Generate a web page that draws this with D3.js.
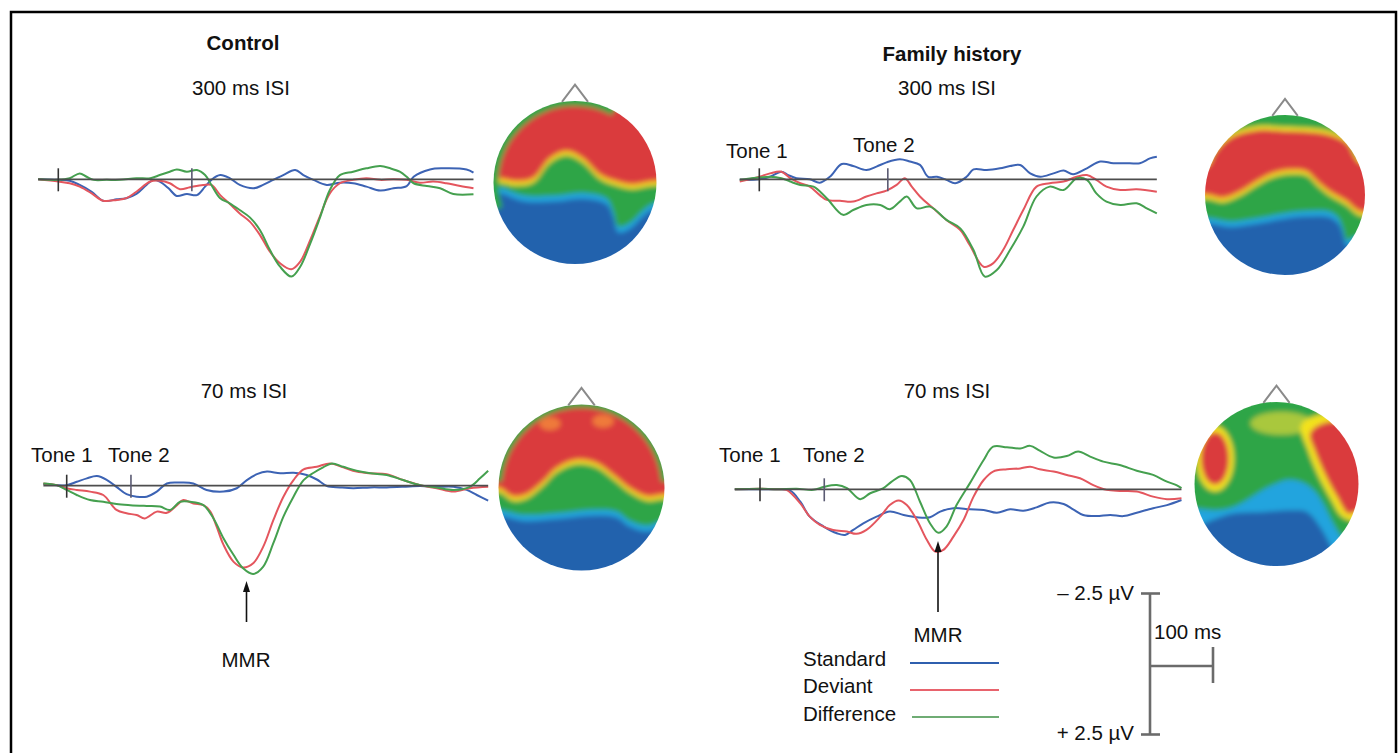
<!DOCTYPE html>
<html>
<head>
<meta charset="utf-8">
<script src="https://cdn.jsdelivr.net/npm/d3@7"></script>
<style>
body { margin: 0; background: #fff; }
svg text { font-family: "Liberation Sans", Arial, sans-serif; font-size: 20.5px; fill: #111; }
</style>
</head>
<body>
<div id="chart"></div>
<script>
// ERP traces, [time from tone 1 (ms), amplitude (µV, positive plotted down)]
const ctrl300Standard = [[-32,0],[0,0.02],[18,0.05],[34,0.2],[53,0.44],[71,0.76],[93,0.71],[108,0.67],[124,0.52],[140,0.2],[151,0.02],[161,0.08],[175,0.32],[188,0.59],[204,0.52],[220,0.56],[233,0.26],[243,0.02],[257,-0.15],[272,-0.04],[288,0.2],[310,0.32],[325,0.2],[341,0.02],[357,-0.15],[376,-0.33],[389,-0.15],[405,0.02],[426,0.2],[447,0.12],[468,0.14],[489,0.26],[511,0.4],[532,0.32],[553,0.24],[564,-0.09],[590,-0.35],[611,-0.39],[648,-0.35],[659,-0.24]];
const ctrl300Deviant = [[-32,0],[0,0.08],[18,0.14],[34,0.26],[53,0.5],[71,0.76],[93,0.73],[108,0.67],[124,0.44],[146,0.08],[161,0.05],[177,0.14],[193,0.35],[209,0.28],[230,0.2],[243,0.2],[257,0.56],[272,0.87],[288,1.21],[304,1.5],[320,1.97],[336,2.57],[352,2.98],[370,3.19],[384,2.92],[400,2.15],[415,1.32],[431,0.5],[447,0.14],[468,0.02],[489,-0.04],[511,0.02],[532,0],[553,0.02],[574,0.12],[595,0.08],[616,0.14],[638,0.24],[659,0.32]];
const ctrl300Difference = [[-32,0],[0,0.02],[18,-0.04],[34,-0.21],[45,-0.09],[56,0.02],[77,0.02],[98,0.02],[124,-0.04],[146,-0.04],[161,-0.15],[177,-0.27],[188,-0.35],[204,-0.27],[220,-0.33],[233,-0.15],[243,0.2],[257,0.67],[272,0.85],[288,1.09],[304,1.35],[320,1.8],[336,2.51],[352,3.1],[370,3.45],[384,3.1],[400,2.27],[415,1.38],[431,0.38],[447,-0.15],[468,-0.27],[489,-0.39],[511,-0.47],[527,-0.39],[542,-0.27],[553,-0.09],[564,0.14],[585,0.24],[606,0.32],[627,0.52],[659,0.53]];

const fam300Standard = [[-31,0.02],[0,0],[17,-0.09],[35,-0.27],[46,-0.15],[59,-0.04],[80,0],[96,0.12],[112,-0.09],[131,-0.54],[149,-0.47],[170,-0.33],[186,-0.45],[202,-0.6],[223,-0.71],[239,-0.63],[255,-0.51],[268,-0.09],[282,-0.09],[297,0.02],[311,0.14],[329,-0.09],[340,-0.35],[361,-0.33],[382,-0.39],[398,-0.47],[414,-0.51],[430,-0.21],[446,-0.09],[467,-0.21],[483,-0.31],[498,-0.18],[520,-0.39],[541,-0.63],[562,-0.57],[588,-0.57],[604,-0.57],[620,-0.74],[631,-0.8]];
const fam300Deviant = [[-31,0.08],[0,-0.09],[17,-0.21],[35,-0.27],[49,-0.04],[65,0.14],[80,0.26],[96,0.56],[107,0.73],[128,0.76],[149,0.79],[170,0.61],[186,0.5],[202,0.4],[218,0.2],[231,-0.04],[242,0.26],[255,0.61],[276,1.03],[297,1.44],[319,1.8],[334,2.33],[356,3.1],[371,2.98],[387,2.51],[403,1.8],[419,1.09],[440,0.26],[461,0.14],[483,0.08],[504,-0.09],[520,-0.15],[535,0.02],[551,0.26],[573,0.38],[599,0.35],[631,0.44]];
const fam300Difference = [[-31,0.02],[0,-0.06],[17,-0.09],[35,-0.04],[49,0.08],[65,0.2],[86,0.26],[107,0.67],[133,1.26],[149,1.09],[170,0.91],[192,0.91],[207,1.06],[223,0.79],[234,0.61],[250,1.03],[271,0.97],[297,1.44],[319,1.74],[340,2.51],[358,3.45],[377,3.22],[398,2.51],[419,1.68],[440,0.61],[461,0.26],[483,0.38],[504,-0.04],[520,0.02],[535,0.5],[551,0.79],[573,0.91],[599,0.85],[615,1.03],[631,1.21]];

const ctrl70Standard = [[-37,-0.06],[0,-0.02],[16,-0.14],[32,-0.26],[48,-0.34],[64,-0.2],[79,0.04],[95,0.3],[111,0.39],[127,0.39],[143,0.21],[159,-0.08],[180,-0.11],[201,-0.08],[222,0.15],[249,0.21],[270,0.09],[286,-0.2],[302,-0.41],[318,-0.5],[339,-0.44],[360,-0.46],[381,-0.38],[397,-0.22],[413,0.01],[434,0.06],[455,0.09],[482,0.06],[508,0.06],[534,0.04],[561,0.01],[587,0.04],[614,0.04],[635,0.15],[651,0.33],[669,0.53]];
const ctrl70Deviant = [[-37,-0.08],[-16,-0.02],[0,0.09],[16,0.15],[37,0.21],[58,0.33],[79,0.86],[95,0.98],[111,1.04],[124,1.16],[143,0.92],[159,0.96],[175,0.69],[185,0.51],[201,0.63],[217,0.69],[228,0.92],[238,1.45],[249,2.1],[265,2.7],[280,2.9],[296,2.75],[312,2.16],[328,1.22],[344,0.39],[360,-0.2],[376,-0.58],[397,-0.67],[418,-0.79],[439,-0.65],[460,-0.5],[482,-0.44],[508,-0.41],[534,-0.2],[561,-0.02],[587,0.09],[614,0.21],[640,0.09],[669,0.04]];
const ctrl70Difference = [[-37,-0.08],[-16,-0.02],[0,0.15],[16,0.33],[37,0.51],[58,0.57],[79,0.65],[101,0.69],[127,0.72],[148,0.74],[164,0.86],[180,0.57],[196,0.57],[217,0.69],[233,1.16],[249,1.87],[265,2.46],[280,2.93],[296,3.13],[312,2.87],[328,2.04],[344,1.1],[360,0.39],[376,-0.2],[392,-0.46],[407,-0.65],[421,-0.79],[439,-0.67],[460,-0.53],[482,-0.44],[508,-0.38],[534,-0.2],[561,-0.02],[587,0.06],[614,0.15],[640,0.04],[656,-0.26],[669,-0.53]];

const fam70Standard = [[-40,0],[0,0],[27,0],[48,0.05],[64,0.44],[79,0.97],[101,1.32],[122,1.56],[135,1.62],[148,1.44],[164,1.21],[185,0.97],[206,0.79],[228,0.91],[249,0.99],[270,0.99],[286,0.79],[307,0.67],[333,0.71],[355,0.73],[376,0.83],[397,0.71],[418,0.76],[439,0.64],[460,0.47],[482,0.52],[497,0.71],[513,0.91],[534,0.95],[556,0.91],[577,0.95],[598,0.83],[624,0.67],[646,0.56],[669,0.38]];
const fam70Deviant = [[-40,0],[0,-0.02],[27,0],[42,0.02],[64,0.5],[79,0.97],[95,1.26],[116,1.44],[138,1.5],[153,1.58],[169,1.44],[191,0.97],[206,0.56],[220,0.4],[233,0.56],[249,1.09],[265,1.8],[278,2.21],[291,2.15],[307,1.68],[323,1.09],[339,0.26],[355,-0.33],[370,-0.63],[392,-0.71],[413,-0.74],[429,-0.8],[444,-0.71],[466,-0.63],[487,-0.51],[508,-0.39],[529,-0.15],[550,0.02],[571,0.06],[598,0.08],[624,0.26],[646,0.35],[669,0.32]];
const fam70Difference = [[-40,0],[0,-0.02],[27,0],[58,-0.02],[85,0.02],[102,-0.09],[122,-0.15],[138,-0.04],[159,0.35],[175,0.14],[196,-0.04],[209,-0.27],[225,-0.47],[238,-0.33],[254,0.44],[270,1.21],[283,1.54],[296,1.32],[312,0.56],[333,-0.21],[355,-1.04],[370,-1.51],[392,-1.49],[413,-1.45],[429,-1.54],[444,-1.37],[466,-1.13],[487,-1.18],[505,-1.34],[524,-1.16],[545,-0.98],[571,-0.86],[598,-0.66],[624,-0.51],[646,-0.27],[661,-0.15],[669,-0.04]];

const tone2Times = [212, 204, 102, 102];
const conditions = ['Standard', 'Deviant', 'Difference'];
const isiLabels = ['300 ms ISI', '300 ms ISI', '70 ms ISI', '70 ms ISI'];
const groupLabels = ['Control', 'Family history'];
const scaleBarUv = [-2.5, 2.5];
const scaleBarMs = 100;

// scalp map contours, unit-circle coords (x right, y down)
const ctrl300RedEdge = [[-0.96,-0.07],[-0.71,-0.03],[-0.51,-0.07],[-0.31,-0.31],[-0.1,-0.4],[0.1,-0.31],[0.31,-0.11],[0.51,-0.03],[0.71,0.01],[0.96,-0.03]];
const ctrl300GreenEdge = [[-0.96,0.05],[-0.63,0.16],[-0.22,0.16],[0.1,0.13],[0.39,0.2],[0.47,0.36],[0.53,0.54],[0.67,0.5],[0.84,0.34],[0.96,0.26]];
const fam300RedEdge = [[-0.98,-0.02],[-0.77,0.02],[-0.56,-0.06],[-0.35,-0.19],[-0.15,-0.29],[0.06,-0.33],[0.27,-0.31],[0.4,-0.19],[0.56,-0.06],[0.77,0.06],[0.94,0.19]];
const fam300TopEdge = [[-0.98,-0.35],[-0.85,-0.56],[-0.65,-0.73],[-0.35,-0.81],[-0.02,-0.8],[0.27,-0.79],[0.56,-0.75],[0.77,-0.65],[0.94,-0.4]];
const fam300GreenEdge = [[-0.94,0.29],[-0.69,0.33],[-0.35,0.29],[-0.02,0.23],[0.27,0.2],[0.56,0.21],[0.67,0.29],[0.73,0.44],[0.77,0.56],[0.9,0.52]];
const ctrl70RedEdge = [[-0.99,-0.01],[-0.83,0.09],[-0.67,0.07],[-0.46,-0.09],[-0.3,-0.25],[-0.06,-0.35],[0.18,-0.31],[0.38,-0.17],[0.58,-0.01],[0.79,0.09],[0.99,0.07]];
const ctrl70GreenEdge = [[-0.99,0.27],[-0.71,0.33],[-0.3,0.31],[0.1,0.27],[0.42,0.29],[0.58,0.4],[0.79,0.46],[0.99,0.4]];
const fam70GreenEdge = [[-0.98,0.3],[-0.73,0.32],[-0.53,0.28],[-0.37,0.2],[-0.2,0.09],[-0.04,0.01],[0.12,-0.05],[0.29,-0.03],[0.45,0.07],[0.57,0.24],[0.69,0.48],[0.82,0.69],[0.9,0.77]];
const fam70DeepEdge = [[-0.98,0.52],[-0.78,0.44],[-0.53,0.36],[-0.16,0.34],[0.16,0.32],[0.37,0.34],[0.53,0.52],[0.69,0.81],[0.8,1.0]];
const fam70RightHalo = [[0.3,-0.72],[0.55,-0.85],[0.9,-0.82],[1.2,-0.5],[1.2,0.4],[0.95,0.45],[0.8,0.4],[0.66,0.18],[0.51,-0.1],[0.38,-0.42]];
const fam70RightBlob = [[0.41,-0.62],[0.6,-0.75],[0.88,-0.72],[1.15,-0.4],[1.15,0.2],[0.96,0.34],[0.87,0.36],[0.74,0.16],[0.59,-0.12],[0.47,-0.4]];

const colors = { Standard: '#3c63b4', Deviant: '#e4565e', Difference: '#45a04f' };
const legendColors = { Standard: '#2f5fae', Deviant: '#e8636d', Difference: '#6fac74' };
const map = { deep: '#2262ad', cyan: '#22a4de', green: '#2fa546', yellow: '#f3e21e', orange: '#f0922c', red: '#da3a3d', olive: '#a9c83c' };

const W = 1398, H = 753;
const pxPerMs = 0.63, pxPerUv = 28.2;

const svg = d3.select('#chart').append('svg')
	.attr('width', W)
	.attr('height', H);
const defs = svg.append('defs');
defs.append('filter').attr('id', 'soft')
	.attr('x', '-10%').attr('y', '-10%').attr('width', '120%').attr('height', '120%')
	.append('feGaussianBlur').attr('stdDeviation', 2.6);

// frame
svg.append('rect')
	.attr('x', 11).attr('y', 12).attr('width', 1385).attr('height', 760)
	.attr('fill', 'none').attr('stroke', '#000').attr('stroke-width', 2.5);

let panels = [
	{ ox: 58.3, oy: 179.3, series: [ctrl300Standard, ctrl300Deviant, ctrl300Difference], tones: null },
	{ ox: 759.3, oy: 179.3, series: [fam300Standard, fam300Deviant, fam300Difference], tones: [[726, 158], [853, 152]] },
	{ ox: 66.7, oy: 485.7, series: [ctrl70Standard, ctrl70Deviant, ctrl70Difference], tones: [[31, 462], [108, 462]] },
	{ ox: 760, oy: 489.3, series: [fam70Standard, fam70Deviant, fam70Difference], tones: [[719, 462], [803, 462]] }
];

panels.forEach((p, i) => {
	let x = d3.scaleLinear().domain([0, 100]).range([p.ox, p.ox + 100 * pxPerMs]);
	let y = d3.scaleLinear().domain([0, 2.5]).range([p.oy, p.oy + 2.5 * pxPerUv]);
	let g = svg.append('g');
	let line = d3.line().x(d => x(d[0])).y(d => y(d[1])).curve(d3.curveCatmullRom);

	p.series.forEach((s, k) => {
		g.append('path')
			.attr('d', line(s))
			.attr('fill', 'none')
			.attr('stroke', colors[conditions[k]])
			.attr('stroke-width', 2)
			.attr('stroke-linejoin', 'round');
	});

	let t0 = d3.min(p.series, s => s[0][0]), t1 = d3.max(p.series, s => s[s.length - 1][0]);
	g.append('line')
		.attr('x1', x(t0)).attr('x2', x(t1))
		.attr('y1', y(0)).attr('y2', y(0))
		.attr('stroke', '#4d4d4d').attr('stroke-width', 1.8);

	[0, tone2Times[i]].forEach((t, k) => {
		g.append('line')
			.attr('x1', x(t)).attr('x2', x(t))
			.attr('y1', y(0) - 11).attr('y2', y(0) + 12)
			.attr('stroke', k ? '#5a5a72' : '#333').attr('stroke-width', 1.6);
	});

	if (p.tones) {
		p.tones.forEach((pos, k) => {
			g.append('text').attr('x', pos[0]).attr('y', pos[1]).text('Tone ' + (k + 1));
		});
	}
});

// titles
svg.append('text').attr('x', 243).attr('y', 50).attr('text-anchor', 'middle')
	.style('font-weight', 'bold').text(groupLabels[0]);
svg.append('text').attr('x', 952).attr('y', 61).attr('text-anchor', 'middle')
	.style('font-weight', 'bold').text(groupLabels[1]);
[[241, 95], [947, 95], [244, 398], [947, 398]].forEach((pos, i) => {
	svg.append('text').attr('x', pos[0]).attr('y', pos[1]).attr('text-anchor', 'middle').text(isiLabels[i]);
});

// MMR arrows
function arrow(xp, y1, y2) {
	svg.append('line').attr('x1', xp).attr('x2', xp).attr('y1', y1).attr('y2', y2 + 8)
		.attr('stroke', '#111').attr('stroke-width', 1.6);
	svg.append('path')
		.attr('d', `M${xp},${y2}L${xp - 3.5},${y2 + 11}L${xp + 3.5},${y2 + 11}Z`)
		.attr('fill', '#111');
}
arrow(246.5, 622, 581);
svg.append('text').attr('x', 246).attr('y', 667).attr('text-anchor', 'middle').text('MMR');
arrow(938, 612, 541);
svg.append('text').attr('x', 938).attr('y', 642).attr('text-anchor', 'middle').text('MMR');

// legend
conditions.forEach((c, k) => {
	let yy = 663 + k * 27;
	svg.append('text').attr('x', 803).attr('y', yy + 2.5 + k * 0.5).text(c);
	svg.append('line')
		.attr('x1', 910 + (k === 2 ? 2 : 0)).attr('x2', 999)
		.attr('y1', yy).attr('y2', yy)
		.attr('stroke', legendColors[c]).attr('stroke-width', 2);
});

// scale bar
{
	let bx = d3.scaleLinear().domain([0, scaleBarMs]).range([1150, 1150 + scaleBarMs * pxPerMs]);
	let by = d3.scaleLinear().domain([0, 2.5]).range([664, 664 + 2.5 * pxPerUv]);
	let sb = svg.append('g').attr('stroke', '#6b6b6b').attr('stroke-width', 2.6);
	sb.append('line').attr('x1', bx(0)).attr('x2', bx(0)).attr('y1', by(scaleBarUv[0])).attr('y2', by(scaleBarUv[1]));
	scaleBarUv.forEach(v => {
		sb.append('line').attr('x1', bx(0) - 9).attr('x2', bx(0) + 10).attr('y1', by(v)).attr('y2', by(v));
	});
	sb.append('line').attr('x1', bx(0)).attr('x2', bx(scaleBarMs)).attr('y1', by(0) + 2).attr('y2', by(0) + 2);
	sb.append('line').attr('x1', bx(scaleBarMs)).attr('x2', bx(scaleBarMs)).attr('y1', by(0) - 17).attr('y2', by(0) + 19);
	svg.append('text').attr('x', 1134).attr('y', by(scaleBarUv[0]) + 6).attr('text-anchor', 'end').text('\u2013 2.5 \u00b5V');
	svg.append('text').attr('x', 1134).attr('y', by(scaleBarUv[1]) + 5).attr('text-anchor', 'end').text('+ 2.5 \u00b5V');
	svg.append('text').attr('x', 1154).attr('y', 639).text(scaleBarMs + ' ms');
}

// scalp maps
let heads = [
	{ cx: 575, cy: 182.5, r: 81.5, layers: [
		['above', ctrl300GreenEdge, 0.07, map.cyan],
		['above', ctrl300GreenEdge, 0, map.green],
		['above', ctrl300RedEdge, 0.07, map.yellow],
		['above', ctrl300RedEdge, 0.03, map.orange],
		['above', ctrl300RedEdge, 0, map.red],
		['rim', -1.9, 0.5, 0.06, map.green]
	] },
	{ cx: 1285, cy: 195, r: 80, layers: [
		['above', fam300GreenEdge, 0.07, map.cyan],
		['above', fam300GreenEdge, 0, map.green],
		['above', fam300RedEdge, 0.07, map.yellow],
		['above', fam300RedEdge, 0.03, map.orange],
		['above', fam300RedEdge, 0, map.red],
		['above', fam300TopEdge, 0, map.yellow],
		['above', fam300TopEdge, -0.05, map.green]
	] },
	{ cx: 581.5, cy: 487.5, r: 83, layers: [
		['above', ctrl70GreenEdge, 0.07, map.cyan],
		['above', ctrl70GreenEdge, 0, map.green],
		['above', ctrl70RedEdge, 0.07, map.yellow],
		['above', ctrl70RedEdge, 0.03, map.orange],
		['above', ctrl70RedEdge, 0, map.red],
		['ellipse', [-0.38, -0.77], [0.13, 0.08], '#ef7a3a'],
		['ellipse', [0.26, -0.8], [0.13, 0.08], '#ef7a3a'],
		['rim', -1.5, 1.5, 0.04, map.green]
	] },
	{ cx: 1276.5, cy: 484, r: 82, layers: [
		['above', fam70DeepEdge, 0, map.cyan],
		['above', fam70GreenEdge, 0, map.green],
		['ellipse', [0.06, -0.74], [0.38, 0.14], map.olive],
		['poly', fam70RightHalo, 0, map.yellow],
		['poly', fam70RightBlob, 0, map.red],
		['ellipse', [-0.75, -0.31], [0.23, 0.4], map.yellow],
		['ellipse', [-0.75, -0.31], [0.17, 0.32], map.red]
	] }
];

heads.forEach((h, i) => {
	let sx = d3.scaleLinear().domain([-1, 1]).range([h.cx - h.r, h.cx + h.r]);
	let sy = d3.scaleLinear().domain([-1, 1]).range([h.cy - h.r, h.cy + h.r]);
	let edgeLine = d3.line().x(d => sx(d[0])).y(d => sy(d[1])).curve(d3.curveCatmullRom);
	let closedLine = d3.line().x(d => sx(d[0])).y(d => sy(d[1])).curve(d3.curveCatmullRomClosed);
	let above = (edge, dv) => {
		let pts = edge.map(d => [d[0], d[1] + dv]);
		pts.unshift([-1.4, pts[0][1]]);
		pts.push([1.4, pts[pts.length - 1][1]]);
		return edgeLine(pts) + `L${sx(1.4)},${sy(-1.4)}L${sx(-1.4)},${sy(-1.4)}Z`;
	};

	defs.append('clipPath').attr('id', 'head' + i)
		.append('circle').attr('cx', h.cx).attr('cy', h.cy).attr('r', h.r);
	let outer = svg.append('g').attr('clip-path', `url(#head${i})`);
	let g = outer.append('g').attr('filter', 'url(#soft)');
	g.append('rect')
		.attr('x', h.cx - h.r - 10).attr('y', h.cy - h.r - 10)
		.attr('width', 2 * h.r + 20).attr('height', 2 * h.r + 20)
		.attr('fill', map.deep);

	h.layers.forEach(l => {
		if (l[0] === 'above') {
			g.append('path').attr('d', above(l[1], l[2])).attr('fill', l[3]);
		} else if (l[0] === 'poly') {
			g.append('path').attr('d', closedLine(l[1])).attr('fill', l[3]);
		} else if (l[0] === 'rim') {
			g.append('path')
				.attr('transform', `translate(${h.cx},${h.cy})`)
				.attr('d', d3.arc()({ innerRadius: h.r * (1 - l[3]), outerRadius: h.r * 1.1, startAngle: l[1], endAngle: l[2] }))
				.attr('fill', l[4]);
		} else {
			g.append('ellipse')
				.attr('cx', sx(l[1][0])).attr('cy', sy(l[1][1]))
				.attr('rx', l[2][0] * h.r).attr('ry', l[2][1] * h.r)
				.attr('fill', l[3]);
		}
	});

	// nose
	svg.append('path')
		.attr('d', d3.line()([[sx(-0.16), sy(-0.99)], [sx(0), sy(-1.2)], [sx(0.16), sy(-0.99)]]))
		.attr('fill', 'none').attr('stroke', '#8a8a8a').attr('stroke-width', 2);
});
</script>
</body>
</html>
